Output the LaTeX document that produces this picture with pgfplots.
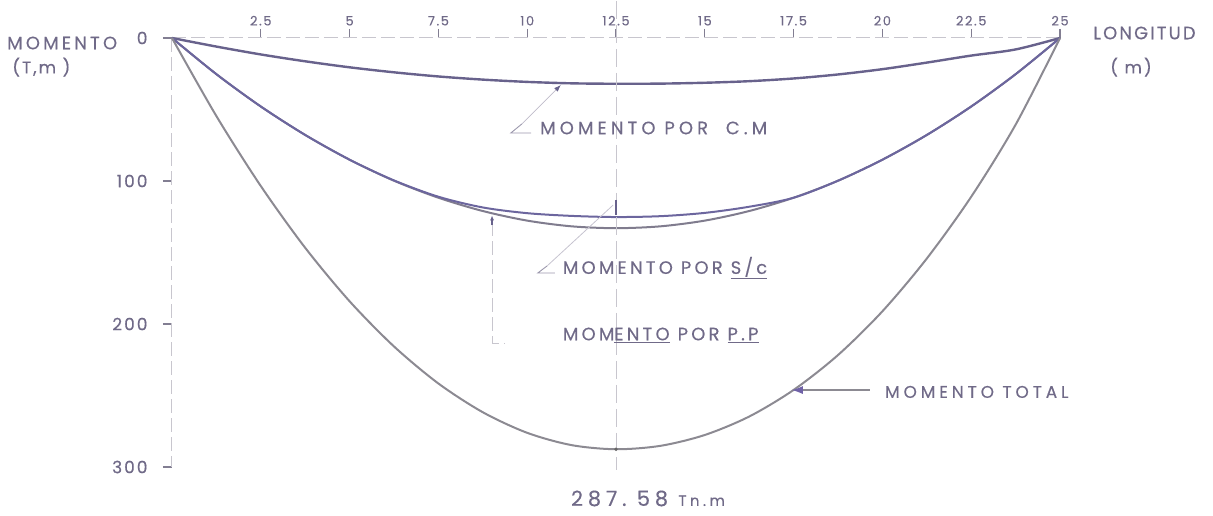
\documentclass[border=0pt]{standalone}
\usepackage{fontspec}
\setmainfont{Poppins}
\newfontfamily\lett[LetterSpace=12,FakeBold=0.4]{Poppins}
\newfontfamily\lettB[LetterSpace=18,FakeBold=0.4]{Poppins}
\newfontfamily\lettC[LetterSpace=23,FakeBold=0.4]{Poppins}
\usepackage{pgfplots}
\usepackage{pgfplotstable}
\pgfplotsset{compat=1.18}
\usetikzlibrary{arrows.meta}
\definecolor{textcol}{RGB}{112,106,136}
\definecolor{cmcol}{RGB}{104,98,140}
\definecolor{sccol}{RGB}{108,102,158}
\definecolor{ppcol}{RGB}{128,124,142}
\definecolor{totcol}{RGB}{140,138,146}
\definecolor{axiscol}{RGB}{200,198,206}
\definecolor{tickcol}{RGB}{130,126,146}
\definecolor{arrowcol}{RGB}{112,98,168}

\pgfplotstableread{
x     cm    sc     pp     tot
0     0     0      0      0
1.25  6.0   25.3   25.3   54.6
2.5   11.5  47.9   47.9   103.5
3.75  16.3  67.8   67.8   146.7
5     20.5  85.1   85.1   184.1
6.25  24.0  99.6   99.8   215.7
7.5   26.9  111.0  111.7  241.6
8.75  29.1  118.5  121.0  261.7
10    30.7  122.5  127.7  276.1
11.25 31.7  124.4  131.7  284.7
12.5  32.0  125.2  133.0  287.58
13.75 31.9  124.6  131.7  285.2
15    31.3  122.3  127.7  277.6
16.25 30.2  118.0  121.0  264.7
17.5  28.3  111.7  111.7  246.1
18.75 25.5  99.8   99.8   221.7
20    21.8  85.1   85.1   191.1
21.25 17.2  67.8   67.8   154.2
22.5  12.3  47.9   47.9   111.0
23.75 8.0   25.3   25.3   60.6
25    0     0      0      0
}\mom

\begin{document}
\begin{tikzpicture}
\begin{axis}[
  x=35.52bp, y=1.43bp, y dir=reverse,
  xmin=0, xmax=25, ymin=0, ymax=300,
  axis x line*=top, axis y line*=left,
  axis line style={draw=axiscol, line width=1bp, dash pattern=on 14bp off 5bp, -},
  xtick={2.5,5,7.5,10,12.5,15,17.5,20,22.5,25},
  xticklabels={2.5,5,7.5,10,12.5,15,17.5,20,22.5,25},
  ytick={0,100,200,300},
  yticklabels={0,100,200,300},
  tick align=outside, major tick length=9bp,
  tick style={draw=tickcol, line width=1.2bp, solid},
  /pgf/number format/assume math mode=true,
  x tick label style={font=\lett\fontsize{13}{13}\selectfont, text=textcol},
  y tick label style={font=\lett\fontsize{17}{17}\selectfont, text=textcol, xshift=-12bp},
  clip=false,
]
\addplot[smooth, draw=cmcol, line width=2.4bp] table[x=x,y=cm]{\mom};
\addplot[smooth, draw=ppcol, line width=2bp] table[x=x,y=pp]{\mom};
\addplot[smooth, draw=sccol, line width=2bp] table[x=x,y=sc]{\mom};
\addplot[smooth, draw=totcol, line width=2bp] table[x=x,y=tot]{\mom};

% centre line
\draw[axiscol, line width=1bp, dash pattern=on 18bp off 6bp] (axis cs:12.5,-26) -- (axis cs:12.5,302);

% axis titles
\node[anchor=west, font=\lettB\fontsize{18}{18}\selectfont, text=textcol, inner sep=0pt] at (axis cs:-4.645,3.5) {MOMENTO};
\node[anchor=west, font=\lett\fontsize{17}{17}\selectfont, text=textcol, inner sep=0pt] at (axis cs:-4.50,20.3) {(T,m )};
\node[anchor=west, font=\lett\fontsize{18}{18}\selectfont, text=textcol, inner sep=0pt] at (axis cs:25.93,-3.5) {LONGITUD};
\node[anchor=west, font=\lett\fontsize{17}{17}\selectfont, text=textcol, inner sep=0pt] at (axis cs:26.41,20.3) {( m)};

% C.M label
\node[anchor=west, font=\lettC\fontsize{18}{18}\selectfont, text=textcol, inner sep=0pt] at (axis cs:10.36,62.9) {MOMENTO POR\ \ C.M};
\draw[textcol!70, line width=0.9bp] (axis cs:9.85,60.1) -- (axis cs:9.54,66.4) -- (axis cs:10.11,66.4);
\draw[textcol!45, line width=0.8bp, -{Latex[length=7bp,width=5bp,color=cmcol]}] (axis cs:9.85,60.1) -- (axis cs:10.95,32.8);

% S/c label
\node[anchor=west, font=\lettB\fontsize{18}{18}\selectfont, text=textcol, inner sep=0pt] at (axis cs:11.0,160.8) {MOMENTO POR \underline{S/c}};
\draw[textcol!70, line width=0.9bp] (axis cs:10.56,159.4) -- (axis cs:10.30,164.3) -- (axis cs:10.78,164.3);
\draw[textcol!40, line width=0.8bp] (axis cs:10.56,159.4) -- (axis cs:12.42,116.8);
\draw[cmcol, line width=1.6bp] (axis cs:12.5,113) -- (axis cs:12.5,124);

% P.P label
\node[anchor=west, font=\lettB\fontsize{18}{18}\selectfont, text=textcol, inner sep=0pt] at (axis cs:11.0,207.7) {MOM\underline{ENTO} POR \underline{P.P}};
\draw[axiscol, line width=1bp, dash pattern=on 14bp off 5bp] (axis cs:9.01,128.7) -- (axis cs:9.01,213.3) -- (axis cs:9.37,213.3);
\draw[cmcol, line width=1.4bp, -{Latex[length=5bp,width=4bp]}] (axis cs:9.01,131) -- (axis cs:9.01,124);

% total label
\draw[totcol, line width=1.2bp, -{Latex[length=11bp,width=8bp,color=arrowcol]}] (axis cs:19.65,246.2) -- (axis cs:17.45,246.2);
\node[anchor=west, font=\lettC\fontsize{17}{17}\selectfont, text=textcol, inner sep=0pt] at (axis cs:20.07,247.5) {MOMENTO TOTAL};
\fill[black!60] (axis cs:12.5,287.58) circle[radius=1.8bp];

\node[anchor=base, font=\lettC\fontsize{21}{21}\selectfont, text=textcol, inner sep=0pt, text depth=0pt] at (axis cs:13.4,327.2) {287.\ 58 {\fontsize{15}{15}\selectfont Tn.m}};

\coordinate (bl) at (axis cs:-4.842,333.6);
\coordinate (tr) at (axis cs:29.307,-26.57);
\end{axis}
\pgfresetboundingbox
\path[use as bounding box] (bl) rectangle (tr);
\end{tikzpicture}
\end{document}
